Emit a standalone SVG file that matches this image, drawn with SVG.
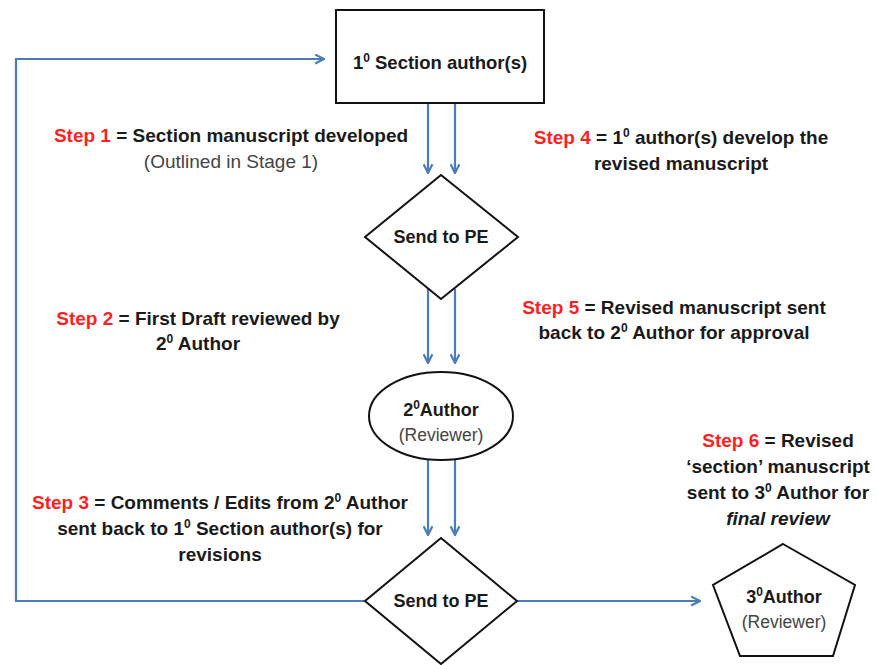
<svg xmlns="http://www.w3.org/2000/svg" width="877" height="665" viewBox="0 0 877 665">
<style>
.node{fill:#fff;stroke:#111;stroke-width:2}
.t{font-family:"Liberation Sans",Arial,sans-serif;font-weight:bold;fill:#1a1a1a;text-anchor:middle}
.s{font-size:19px}
.n{font-size:18px}
.red{fill:#ff1f1f}
.g{font-family:"Liberation Sans",Arial,sans-serif;font-weight:normal;fill:#444;text-anchor:middle}
.c{fill:none;stroke:#4a7ebb;stroke-width:2.2}
.sup{font-size:12px}
</style>
<defs>
<marker id="ah" viewBox="0 0 10 10" refX="9" refY="5" markerWidth="11" markerHeight="11" markerUnits="userSpaceOnUse" orient="auto">
<path d="M1,1 L9,5 L1,9" fill="none" stroke="#4a7ebb" stroke-width="2"/>
</marker>
</defs>
<rect width="877" height="665" fill="#fff"/>
<g id="connectors">
<line class="c" x1="428" y1="103" x2="428" y2="173" marker-end="url(#ah)"/>
<line class="c" x1="455" y1="103" x2="455" y2="173" marker-end="url(#ah)"/>
<line class="c" x1="428" y1="289" x2="428" y2="363" marker-end="url(#ah)"/>
<line class="c" x1="455" y1="289" x2="455" y2="363" marker-end="url(#ah)"/>
<line class="c" x1="428" y1="459" x2="428" y2="535" marker-end="url(#ah)"/>
<line class="c" x1="455" y1="459" x2="455" y2="535" marker-end="url(#ah)"/>
<path class="c" d="M365,601 H16 V59 H324" marker-end="url(#ah)"/>
<path class="c" d="M517,601 H700" marker-end="url(#ah)"/>
</g>
<g id="primary-author">
<rect class="node" x="336" y="10" width="208" height="93"/>
<text class="t" x="440" y="69" font-size="18.5">1<tspan class="sup" dy="-7">0</tspan><tspan dy="7"> Section author(s)</tspan></text>
</g>
<g id="send-pe-1">
<polygon class="node" points="441,175 518,237 441,299 365,237"/>
<text class="t n" x="441" y="243">Send to PE</text>
</g>
<g id="secondary-author">
<ellipse class="node" cx="441" cy="416" rx="72" ry="44"/>
<text class="t n" x="441" y="416">2<tspan class="sup" dy="-7">0</tspan><tspan dy="7">Author</tspan></text>
<text class="g" x="441" y="441" font-size="17.5">(Reviewer)</text>
</g>
<g id="send-pe-2">
<polygon class="node" points="441,538 517,601 441,664 365,601"/>
<text class="t n" x="441" y="607">Send to PE</text>
</g>
<g id="tertiary-author">
<polygon class="node" points="783,544 855,585 833,656 740,656 713,585"/>
<text class="t n" x="784" y="603">3<tspan class="sup" dy="-7">0</tspan><tspan dy="7">Author</tspan></text>
<text class="g" x="784" y="628" font-size="17.5">(Reviewer)</text>
</g>
<g id="step1">
<text class="t s" x="231" y="142"><tspan class="red">Step 1</tspan> = Section manuscript developed</text>
<text class="g" x="231" y="168" font-size="19">(Outlined in Stage 1)</text>
</g>
<g id="step2">
<text class="t s" x="198" y="325"><tspan class="red">Step 2</tspan> = First Draft reviewed by</text>
<text class="t s" x="198" y="350">2<tspan class="sup" dy="-7">0</tspan><tspan dy="7">  Author</tspan></text>
</g>
<g id="step3">
<text class="t s" x="220" y="509"><tspan class="red">Step 3</tspan> = Comments / Edits from 2<tspan class="sup" dy="-7">0</tspan><tspan dy="7"> Author</tspan></text>
<text class="t s" x="220" y="535">sent back to 1<tspan class="sup" dy="-7">0</tspan><tspan dy="7"> Section author(s) for</tspan></text>
<text class="t s" x="220" y="561">revisions</text>
</g>
<g id="step4">
<text class="t s" x="681" y="144"><tspan class="red">Step 4</tspan> = 1<tspan class="sup" dy="-7">0</tspan><tspan dy="7">  author(s) develop the</tspan></text>
<text class="t s" x="681" y="170">revised manuscript</text>
</g>
<g id="step5">
<text class="t s" x="674" y="314"><tspan class="red">Step 5</tspan> = Revised manuscript sent</text>
<text class="t s" x="674" y="339">back to 2<tspan class="sup" dy="-7">0</tspan><tspan dy="7"> Author for approval</tspan></text>
</g>
<g id="step6">
<text class="t s" x="778" y="447"><tspan class="red">Step 6</tspan> = Revised</text>
<text class="t s" x="778" y="473">‘section’ manuscript</text>
<text class="t s" x="778" y="499">sent to 3<tspan class="sup" dy="-7">0</tspan><tspan dy="7"> Author for</tspan></text>
<text class="t s" x="778" y="525" font-style="italic">final review</text>
</g>
</svg>
